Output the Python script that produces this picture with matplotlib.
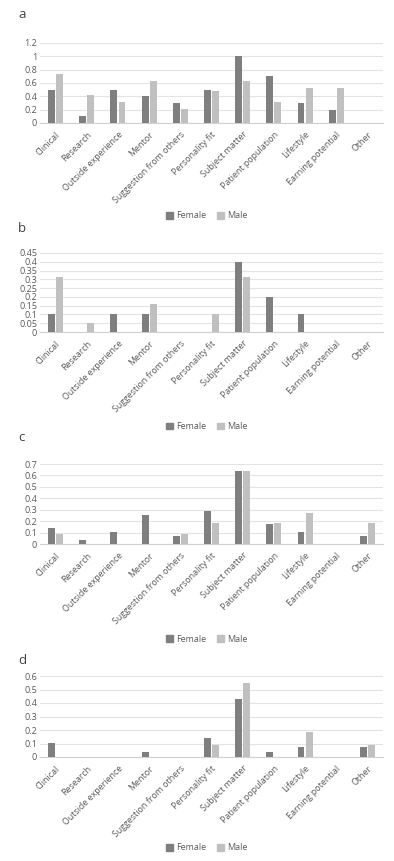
import numpy as np
import matplotlib
matplotlib.use("Agg")
import matplotlib.pyplot as plt
from matplotlib.patches import Patch

plt.rcParams['font.family'] = ['Open Sans', 'DejaVu Sans']

categories = ["Clinical", "Research", "Outside experience", "Mentor",
              "Suggestion from others", "Personality fit", "Subject matter",
              "Patient population", "Lifestyle", "Earning potential", "Other"]

# panel a
a_female = [0.5, 0.1, 0.5, 0.4, 0.3, 0.5, 1.0, 0.7, 0.3, 0.2, 0.0]
a_male = [0.737, 0.421, 0.316, 0.632, 0.211, 0.474, 0.632, 0.316, 0.526, 0.526, 0.0]
a_ticks = [0, 0.2, 0.4, 0.6, 0.8, 1, 1.2]
a_ticklabels = ["0", "0.2", "0.4", "0.6", "0.8", "1", "1.2"]

# panel b
b_female = [0.1, 0.0, 0.1, 0.1, 0.0, 0.0, 0.4, 0.2, 0.1, 0.0, 0.0]
b_male = [0.316, 0.053, 0.0, 0.158, 0.0, 0.105, 0.316, 0.0, 0.0, 0.0, 0.0]
b_ticks = [0, 0.05, 0.1, 0.15, 0.2, 0.25, 0.3, 0.35, 0.4, 0.45]
b_ticklabels = ["0", "0.05", "0.1", "0.15", "0.2", "0.25", "0.3", "0.35", "0.4", "0.45"]

# panel c
c_female = [0.143, 0.036, 0.107, 0.25, 0.071, 0.286, 0.643, 0.179, 0.107, 0.0, 0.071]
c_male = [0.091, 0.0, 0.0, 0.0, 0.091, 0.182, 0.636, 0.182, 0.273, 0.0, 0.182]
c_ticks = [0, 0.1, 0.2, 0.3, 0.4, 0.5, 0.6, 0.7]
c_ticklabels = ["0", "0.1", "0.2", "0.3", "0.4", "0.5", "0.6", "0.7"]

# panel d
d_female = [0.107, 0.0, 0.0, 0.036, 0.0, 0.143, 0.429, 0.036, 0.071, 0.0, 0.071]
d_male = [0.0, 0.0, 0.0, 0.0, 0.0, 0.091, 0.545, 0.0, 0.182, 0.0, 0.091]
d_ticks = [0, 0.1, 0.2, 0.3, 0.4, 0.5, 0.6]
d_ticklabels = ["0", "0.1", "0.2", "0.3", "0.4", "0.5", "0.6"]

FEMALE_C = '#7f7f7f'
MALE_C = '#c0c0c0'
TXT_C = '#595959'

W, H = 394, 861
fig = plt.figure(figsize=(W / 100, H / 100), dpi=100)
fig.patch.set_facecolor('white')

# (letter, letter_y, top_px, bottom_px, legend_y, female, male, ticks, labels)
panels = [
    ("a", 15, 43, 123, 216, a_female, a_male, a_ticks, a_ticklabels),
    ("b", 228, 253, 332, 427, b_female, b_male, b_ticks, b_ticklabels),
    ("c", 437, 464, 544, 639, c_female, c_male, c_ticks, c_ticklabels),
    ("d", 660, 676, 757, 848, d_female, d_male, d_ticks, d_ticklabels),
]

x = np.arange(len(categories))
bw = 0.22
left_px, right_px = 40, 383

for letter, ly, top, bot, legy, fem, mal, ticks, tlabels in panels:
    ax = fig.add_axes([left_px / W, 1 - bot / H, (right_px - left_px) / W, (bot - top) / H])
    ax.bar(x - 0.13, fem, width=bw, color=FEMALE_C, zorder=3)
    ax.bar(x + 0.13, mal, width=bw, color=MALE_C, zorder=3)
    ax.set_xlim(-0.5, len(categories) - 0.5)
    ax.set_ylim(0, ticks[-1])
    ax.set_yticks(ticks)
    ax.set_yticklabels(tlabels, fontsize=6.5, color=TXT_C)
    ax.set_xticks(x)
    ax.set_xticklabels(categories, rotation=45, ha='right', va='top',
                       rotation_mode='anchor', fontsize=6.4, color=TXT_C)
    ax.tick_params(axis='x', length=0, pad=5)
    ax.tick_params(axis='y', length=0, pad=2)
    ax.grid(axis='y', color='#e3e3e3', linewidth=0.8, zorder=0)
    for s in ['top', 'right', 'left']:
        ax.spines[s].set_visible(False)
    ax.spines['bottom'].set_color('#d0d0d0')
    ax.spines['bottom'].set_linewidth(0.8)

    fig.text(18 / W, 1 - ly / H, letter, fontsize=9.5, color='#404040',
             ha='left', va='center')

    handles = [Patch(color=FEMALE_C, label='Female'), Patch(color=MALE_C, label='Male')]
    fig.legend(handles=handles, loc='center', bbox_to_anchor=(207 / W, 1 - legy / H),
               ncol=2, frameon=False, fontsize=6.5, labelcolor=TXT_C,
               handlelength=0.7, handleheight=0.7, handletextpad=0.4,
               columnspacing=1.2)

fig.savefig("out.png", dpi=100)
